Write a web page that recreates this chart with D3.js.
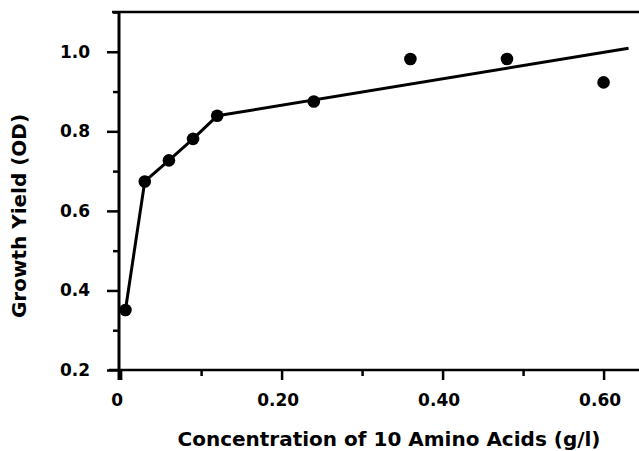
<!DOCTYPE html>
<html>
<head>
    <meta charset="utf-8">
    <title>Growth Yield vs Amino Acid Concentration</title>
    <script src="https://d3js.org/d3.v7.min.js"></script>
    <style>
        body {
            margin: 0;
            background-color: white;
        }
        svg {
            display: block;
        }
        .axis-line {
            stroke: black;
            fill: none;
        }
        .axis text {
            font-family: "DejaVu Sans", sans-serif;
            font-weight: bold;
            font-size: 17px;
            fill: black;
        }
        .axis line {
            stroke: black;
            stroke-width: 2.5px;
        }
        .title {
            font-family: "DejaVu Sans", sans-serif;
            font-weight: bold;
            font-size: 20px;
            fill: black;
        }
        .fit {
            fill: none;
            stroke: black;
            stroke-width: 3px;
            stroke-linejoin: round;
        }
        .dot {
            fill: black;
        }
    </style>
</head>
<body>
    <svg width="639" height="451"></svg>

    <script>
        // measured points
        const concX = [0.006, 0.03, 0.06, 0.09, 0.12, 0.24, 0.36, 0.48, 0.60];
        const yieldY = [0.351, 0.674, 0.727, 0.781, 0.839, 0.875, 0.982, 0.982, 0.923];

        // drawn line (segments through the first points, then a straight fit)
        const lineX = [0.006, 0.03, 0.06, 0.09, 0.12, 0.631];
        const lineY = [0.351, 0.674, 0.727, 0.781, 0.839, 1.009];

        const xMajor = [0, 0.2, 0.4, 0.6];
        const xMinor = [0.1, 0.3, 0.5];
        const xLabels = ["0", "0.20", "0.40", "0.60"];
        const yMajor = [0.2, 0.4, 0.6, 0.8, 1.0];
        const yMinor = [0.3, 0.5, 0.7, 0.9, 1.1];
        const yLabels = ["0.2", "0.4", "0.6", "0.8", "1.0"];

        const svg = d3.select("svg");

        const x = d3.scaleLinear().domain([-0.002, 0.644]).range([119, 639]);
        const y = d3.scaleLinear().domain([0.2, 1.1]).range([370, 12]);

        // x axis: major + minor ticks pointing down
        const xAxis = svg.append("g")
            .attr("class", "axis")
            .attr("transform", `translate(0,${y(0.2)})`)
            .call(d3.axisBottom(x).tickValues(xMajor).tickSize(10).tickSizeOuter(0)
                .tickFormat((d, i) => xLabels[i]));
        xAxis.select(".domain").remove();
        xAxis.selectAll("text").attr("y", 24).attr("dx", -4).attr("dy", "0.71em");

        const xAxisMinor = svg.append("g")
            .attr("class", "axis")
            .attr("transform", `translate(0,${y(0.2)})`)
            .call(d3.axisBottom(x).tickValues(xMinor).tickSize(6).tickFormat(""));
        xAxisMinor.select(".domain").remove();

        // y axis: major + minor ticks pointing left
        const yAxis = svg.append("g")
            .attr("class", "axis")
            .attr("transform", `translate(${x(-0.002)},0)`)
            .call(d3.axisLeft(y).tickValues(yMajor).tickSize(12).tickSizeOuter(0)
                .tickFormat((d, i) => yLabels[i]));
        yAxis.select(".domain").remove();
        yAxis.selectAll("text").attr("x", -29);

        const yAxisMinor = svg.append("g")
            .attr("class", "axis")
            .attr("transform", `translate(${x(-0.002)},0)`)
            .call(d3.axisLeft(y).tickValues(yMinor).tickSize(6).tickFormat(""));
        yAxisMinor.select(".domain").remove();

        // frame lines
        svg.append("line").attr("class", "axis-line")
            .attr("x1", x(-0.002)).attr("x2", x(-0.002))
            .attr("y1", y(1.1)).attr("y2", y(0.2) + 10)
            .attr("stroke-width", 3);
        svg.append("line").attr("class", "axis-line")
            .attr("x1", x(-0.002) - 10).attr("x2", x(0.644))
            .attr("y1", y(0.2)).attr("y2", y(0.2))
            .attr("stroke-width", 2.5);
        svg.append("line").attr("class", "axis-line")
            .attr("x1", x(-0.002) - 7).attr("x2", x(0.644))
            .attr("y1", y(1.1)).attr("y2", y(1.1))
            .attr("stroke-width", 2.5);

        // fitted line
        const line = d3.line()
            .x(d => x(d[0]))
            .y(d => y(d[1]));

        svg.append("path")
            .datum(d3.zip(lineX, lineY))
            .attr("class", "fit")
            .attr("d", line);

        // points
        svg.selectAll(".dot")
            .data(d3.zip(concX, yieldY))
            .enter()
            .append("circle")
            .attr("class", "dot")
            .attr("cx", d => x(d[0]))
            .attr("cy", d => y(d[1]))
            .attr("r", 6.3);

        // axis titles
        svg.append("text")
            .attr("class", "title")
            .attr("x", 389)
            .attr("y", 446)
            .attr("text-anchor", "middle")
            .text("Concentration of 10 Amino Acids (g/l)");

        svg.append("text")
            .attr("class", "title")
            .attr("transform", "translate(26,216) rotate(-90)")
            .attr("text-anchor", "middle")
            .text("Growth Yield (OD)");
    </script>
</body>
</html>
